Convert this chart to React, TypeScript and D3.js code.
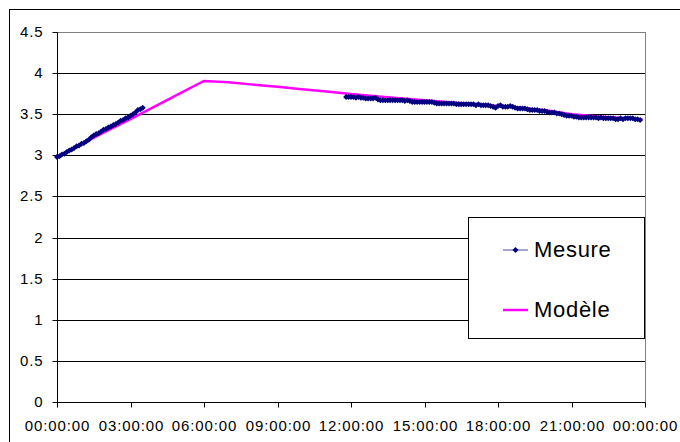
import { useRef, useEffect } from 'react';
import * as d3 from 'd3';

// time step of the measurement samples, in hours
const STEP = 0.1;

// Mesure, first run: starts at 00:00
const MESURE_A_START = 0;
const MESURE_A = [
  2.98, 2.99, 3.01, 3.02, 3.04, 3.06, 3.07, 3.09, 3.11, 3.12,
  3.14, 3.15, 3.17, 3.19, 3.22, 3.24, 3.26, 3.27, 3.29, 3.31,
  3.32, 3.34, 3.35, 3.37, 3.38, 3.4, 3.42, 3.43, 3.45, 3.46,
  3.48, 3.5, 3.52, 3.55, 3.56, 3.58,
];

// Mesure, second run: starts around 11:48
const MESURE_B_START = 11.8;
const MESURE_B = [
  3.71, 3.71, 3.71, 3.71, 3.7, 3.71, 3.7, 3.7, 3.69, 3.69,
  3.69, 3.69, 3.7, 3.68, 3.67, 3.67, 3.67, 3.67, 3.67, 3.67,
  3.67, 3.67, 3.67, 3.67, 3.66, 3.67, 3.66, 3.65, 3.65, 3.65,
  3.65, 3.65, 3.65, 3.65, 3.65, 3.65, 3.64, 3.63, 3.63, 3.63,
  3.63, 3.63, 3.63, 3.63, 3.63, 3.62, 3.62, 3.62, 3.62, 3.62,
  3.62, 3.62, 3.62, 3.61, 3.62, 3.61, 3.61, 3.61, 3.61, 3.6,
  3.59, 3.58, 3.6, 3.61, 3.59, 3.59, 3.59, 3.6, 3.59, 3.58,
  3.57, 3.57, 3.57, 3.57, 3.56, 3.55, 3.55, 3.55, 3.55, 3.54,
  3.54, 3.54, 3.53, 3.52, 3.52, 3.52, 3.51, 3.51, 3.5, 3.49,
  3.48, 3.48, 3.48, 3.47, 3.47, 3.46, 3.46, 3.46, 3.46, 3.46,
  3.46, 3.46, 3.46, 3.45, 3.46, 3.45, 3.45, 3.45, 3.45, 3.45,
  3.44, 3.44, 3.45, 3.44, 3.45, 3.45, 3.45, 3.45, 3.44, 3.44,
  3.43,
];

// Modèle (hours, value)
const MODELE_HOURS = [0, 1, 2, 3, 4, 5, 6, 7, 8, 9, 10, 11, 12, 13, 14, 15, 16, 17, 18, 19, 20, 21, 22, 23, 23.9];
const MODELE_VALUES = [
  2.98, 3.135, 3.29, 3.44, 3.595, 3.75, 3.905, 3.89, 3.86, 3.835, 3.805, 3.775, 3.745,
  3.72, 3.695, 3.67, 3.645, 3.625, 3.6, 3.575, 3.545, 3.5, 3.475, 3.455, 3.435,
];

const X_TICKS = [0, 3, 6, 9, 12, 15, 18, 21, 24];
const Y_TICKS = [0, 0.5, 1, 1.5, 2, 2.5, 3, 3.5, 4, 4.5];
const SERIES_NAMES = ['Mesure', 'Modèle'];

const FONT = '"Liberation Sans", Arial, sans-serif';
const NAVY = '#000080';
const MAGENTA = '#ff00ff';

const fmtTime = (h: number) => `${String(h % 24).padStart(2, '0')}:00:00`;

export default function App() {
  const svgRef = useRef<SVGSVGElement>(null);

  useEffect(() => {
    if (!svgRef.current) return;
    const svg = d3.select(svgRef.current);
    svg.selectAll('*').remove();

    const width = 680;
    const height = 442;
    const plot = { left: 57, right: 645, top: 32, bottom: 402 };

    const x = d3.scaleLinear().domain([0, 24]).range([plot.left, plot.right]);
    const y = d3.scaleLinear().domain([0, 4.5]).range([plot.bottom, plot.top]);
    const px = (v: number) => Math.round(v) + 0.5;

    // outer frame (right / bottom sides fall outside the picture)
    svg.append('rect')
      .attr('x', 9.5).attr('y', 9.5)
      .attr('width', width).attr('height', height)
      .attr('fill', '#fff').attr('stroke', '#000');

    // plot area border
    svg.append('rect')
      .attr('x', px(plot.left)).attr('y', px(plot.top))
      .attr('width', Math.round(plot.right) - Math.round(plot.left))
      .attr('height', Math.round(plot.bottom) - Math.round(plot.top))
      .attr('fill', '#fff').attr('stroke', '#808080');

    // gridlines
    svg.append('g')
      .selectAll('line').data(Y_TICKS.filter(d => d > 0 && d < 4.5)).join('line')
      .attr('x1', plot.left).attr('x2', plot.right)
      .attr('y1', d => px(y(d))).attr('y2', d => px(y(d)))
      .attr('stroke', '#000').attr('stroke-width', 1);

    // Y axis
    const yAxis = svg.append('g')
      .attr('transform', `translate(${px(plot.left)},0)`)
      .call(d3.axisLeft(y).tickValues(Y_TICKS).tickSize(5).tickPadding(9)
        .tickFormat(d => String(d)));
    yAxis.select('.domain').attr('stroke', '#000').attr('d', `M0,${px(plot.top)}V${px(plot.bottom)}`);
    yAxis.selectAll('.tick line').attr('stroke', '#000');
    yAxis.selectAll('.tick')
      .attr('transform', d => `translate(0,${px(y(d as number))})`);
    yAxis.selectAll('.tick text')
      .attr('font-family', FONT).attr('font-size', 15)
      .attr('letter-spacing', '0.9px').attr('fill', '#000');

    // X axis
    const xAxis = svg.append('g')
      .attr('transform', `translate(0,${px(plot.bottom)})`)
      .call(d3.axisBottom(x).tickValues(X_TICKS).tickSize(5).tickPadding(13)
        .tickFormat(d => fmtTime(d as number)));
    xAxis.select('.domain').attr('stroke', '#000').attr('d', `M${px(plot.left)},0H${px(plot.right)}`);
    xAxis.selectAll('.tick line').attr('stroke', '#000');
    xAxis.selectAll('.tick')
      .attr('transform', d => `translate(${px(x(d as number))},0)`);
    xAxis.selectAll('.tick text')
      .attr('font-family', FONT).attr('font-size', 15)
      .attr('letter-spacing', '0.9px').attr('fill', '#000');

    // Modèle
    const modele = MODELE_HOURS.map((h, i) => ({ h, v: MODELE_VALUES[i] }));
    const line = d3.line<{ h: number; v: number }>().x(d => x(d.h)).y(d => y(d.v));
    svg.append('path')
      .datum(modele)
      .attr('d', line)
      .attr('fill', 'none').attr('stroke', MAGENTA).attr('stroke-width', 2.5);

    // Mesure: Excel-style diamond = square turned 45°
    const runs = [
      MESURE_A.map((v, i) => ({ h: MESURE_A_START + i * STEP, v })),
      MESURE_B.map((v, i) => ({ h: MESURE_B_START + i * STEP, v })),
    ];
    const diamond = d3.symbol().type(d3.symbolSquare).size(18);
    runs.forEach(run => {
      svg.append('path')
        .datum(run)
        .attr('d', line)
        .attr('fill', 'none').attr('stroke', NAVY).attr('stroke-width', 1);
      svg.append('g')
        .selectAll('path').data(run).join('path')
        .attr('d', diamond)
        .attr('transform', d => `translate(${x(d.h)},${y(d.v)}) rotate(45)`)
        .attr('fill', NAVY);
    });

    // Legend
    const lg = svg.append('g');
    lg.append('rect')
      .attr('x', 468.5).attr('y', 217.5).attr('width', 176).attr('height', 121)
      .attr('fill', '#fff').attr('stroke', '#000');
    const rows = [250, 310];
    SERIES_NAMES.forEach((name, i) => {
      const ry = rows[i];
      lg.append('line')
        .attr('x1', 503).attr('x2', 528).attr('y1', ry).attr('y2', ry)
        .attr('stroke', i === 0 ? NAVY : MAGENTA)
        .attr('stroke-width', i === 0 ? 1 : 2.5)
        .attr('stroke-opacity', i === 0 ? 0.7 : 1);
      if (i === 0) {
        lg.append('path').attr('d', diamond)
          .attr('transform', `translate(515.5,${ry}) rotate(45)`).attr('fill', NAVY);
      }
      lg.append('text')
        .attr('x', 534).attr('y', ry + 7)
        .attr('font-family', FONT).attr('font-size', 22)
        .attr('letter-spacing', '0.7px')
        .attr('fill', '#000')
        .text(name);
    });
  }, []);

  return (
    <svg
      ref={svgRef}
      width={680}
      height={442}
      style={{ position: 'absolute', left: 0, top: 0, background: '#fff' }}
    />
  );
}
